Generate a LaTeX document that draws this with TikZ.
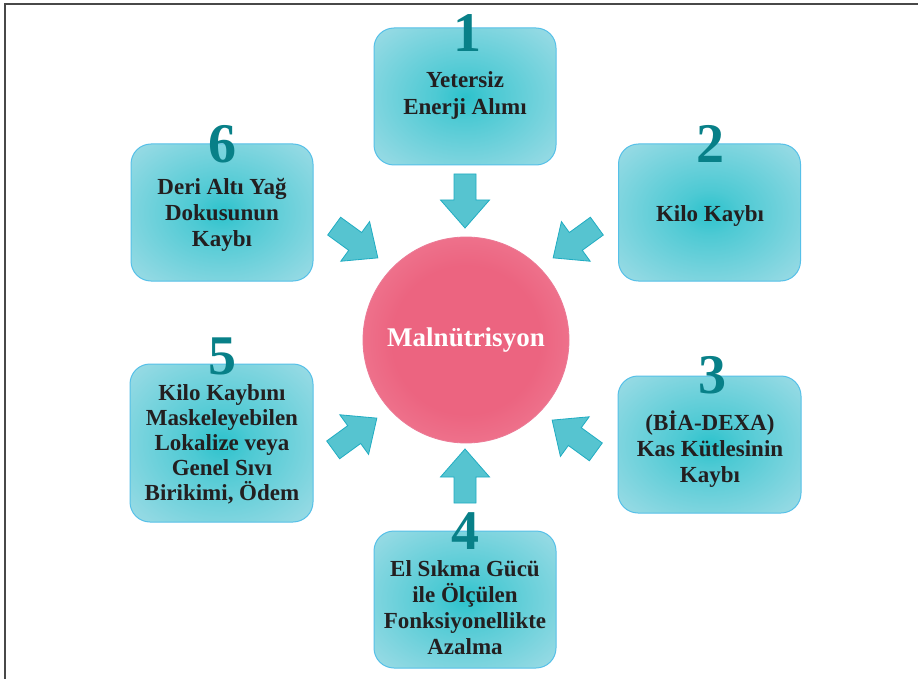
\documentclass[tikz,border=0pt]{standalone}
\usepackage{fontspec}
\setmainfont{Liberation Serif}

% palette
\definecolor{boxin}{RGB}{44,194,204}
\definecolor{boxout}{RGB}{176,224,234}
\definecolor{boxline}{RGB}{86,192,232}
\definecolor{digit}{RGB}{8,128,136}
\definecolor{arrowfill}{RGB}{86,196,208}
\definecolor{arrowline}{RGB}{32,172,194}
\definecolor{ballin}{RGB}{236,100,128}
\definecolor{ballout}{RGB}{245,158,178}
\definecolor{ballline}{RGB}{236,122,150}
\definecolor{ink}{RGB}{35,31,32}
\definecolor{framegray}{RGB}{72,72,72}

% soft glows for the boxes and the central disc
\pgfdeclareradialshading{boxglow}{\pgfpoint{0bp}{0bp}}{%
  color(0bp)=(boxin); color(8bp)=(boxin!75!boxout);
  color(42bp)=(boxout); color(75bp)=(boxout)}
\pgfdeclareradialshading{ballglow}{\pgfpoint{0bp}{0bp}}{%
  color(0bp)=(ballin); color(18bp)=(ballin);
  color(50bp)=(ballout); color(75bp)=(ballout)}

\tikzset{
  boxnode/.style={draw=boxline, line width=1pt, rounded corners=20pt,
    shading=boxglow, minimum width=182pt, minimum height=137pt, inner sep=0pt},
  % anchored at the baseline of the last line
  boxtext/.style={anchor=base, align=center, text=ink, inner sep=0pt,
    font=\fontsize{23}{26}\selectfont\bfseries},
  numeral/.style={anchor=base, text=digit, inner sep=0pt,
    font=\fontsize{56}{56}\selectfont\bfseries},
  ball/.style={circle, draw=ballline, line width=0.8pt, shading=ballglow,
    minimum size=206pt, inner sep=0pt, text=white,
    font=\fontsize{27}{30}\selectfont\bfseries},
  flowarrow/.style={fill=arrowfill, draw=arrowline, line width=0.8pt, line join=miter},
  blockarrow/.pic={
    \path[flowarrow] (-27,-11) -- (-1,-11) -- (-1,-24.5) -- (27,0)
      -- (-1,24.5) -- (-1,11) -- (-27,11) -- cycle;
  }
}

\begin{document}
\begin{tikzpicture}[x=1pt, y=-1pt]
  \useasboundingbox[fill=white] (0,0) rectangle (918,679);

  % page frame
  \draw[framegray, line width=2pt] (5,679) -- (5,4) -- (918,4);

  % the six factor boxes
  \node[boxnode] (b1) at (465,96.5) {};
  \node[boxnode] (b2) at (709.5,212.5) {};
  \node[boxnode, minimum width=183pt] (b3) at (709.5,444.5) {};
  \node[boxnode] (b4) at (465,599.5) {};
  \node[boxnode, minimum width=183pt, minimum height=158pt] (b5) at (221.5,443) {};
  \node[boxnode] (b6) at (222,212.5) {};

  % box texts
  \node[boxtext] (t1) at (465,115) {Yetersiz\\[1pt]Enerji Alımı};
  \node[boxtext] (t2) at (710,222) {Kilo Kaybı};
  \node[boxtext] (t3) at (710,482) {(BİA-DEXA)\\Kas Kütlesinin\\Kaybı};
  \node[boxtext] (t4) at (465,654) {El Sıkma Gücü\\ile Ölçülen\\Fonksiyonellikte\\Azalma};
  \node[boxtext, font=\fontsize{23}{25}\selectfont\bfseries] (t5) at (222,500)
    {Kilo Kaybını\\Maskeleyebilen\\Lokalize veya\\Genel Sıvı\\Birikimi, Ödem};
  \node[boxtext] (t6) at (222,247) {Deri Altı Yağ\\Dokusunun\\Kaybı};

  % numerals
  \node[numeral] (n1) at (467,52) {1};
  \node[numeral] (n2) at (710,163) {2};
  \node[numeral] (n3) at (712,393) {3};
  \node[numeral] (n4) at (465,549) {4};
  \node[numeral] (n5) at (222,374) {5};
  \node[numeral] (n6) at (222,163) {6};

  % central disc
  \node[ball] (m) at (466,340) {Malnütrisyon};

  % block arrows pointing at the disc
  \pic[rotate=-90] (a1) at (465,201) {blockarrow};
  \pic[rotate=-144] (a2) at (575,242) {blockarrow};
  \pic[rotate=144] (a3) at (574,436) {blockarrow};
  \pic[rotate=90] (a4) at (465,476) {blockarrow};
  \pic[rotate=36] (a5) at (355,434) {blockarrow};
  \pic[rotate=-36] (a6) at (356,242) {blockarrow};
\end{tikzpicture}
\end{document}
